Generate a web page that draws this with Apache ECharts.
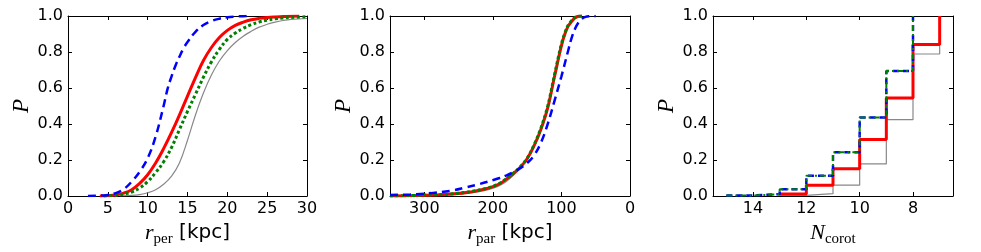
<!DOCTYPE html>
<html><head><meta charset="utf-8">
<script src="https://cdn.jsdelivr.net/npm/echarts@6/dist/echarts.min.js"></script>
<style>html,body{margin:0;padding:0;background:#fff}#c{width:981px;height:252px}</style>
</head><body><div id="c"></div>
<script>
// ---- Panel 1: r_per [kpc] ----
const perGray  = [[6.5,0],[8,0.003],[9,0.008],[10,0.018],[11,0.035],[12,0.065],[13,0.11],[14,0.185],[15,0.31],[16,0.45],[17,0.572],[18,0.672],[19,0.75],[20,0.808],[21,0.853],[22,0.888],[23,0.915],[24,0.938],[25,0.954],[26,0.966],[27,0.975],[28,0.981],[30,0.986]];
const perRed   = [[4,0],[5,0.002],[6,0.006],[7,0.016],[8,0.035],[9,0.07],[10,0.118],[11,0.183],[12,0.263],[13,0.353],[14,0.451],[15,0.555],[16,0.658],[17,0.753],[18,0.825],[19,0.88],[20,0.92],[21,0.948],[22,0.966],[23,0.979],[24,0.987],[25,0.992],[26,0.995],[27,0.997],[28,0.999],[29,1.0]];
const perGreen = [[4.5,0],[6,0.004],[7,0.01],[8,0.022],[9,0.045],[10,0.08],[11,0.13],[12,0.19],[13,0.27],[14,0.37],[15,0.47],[16,0.565],[17,0.66],[18,0.745],[19,0.815],[20,0.87],[21,0.905],[22,0.932],[23,0.952],[24,0.967],[25,0.977],[26,0.984],[27,0.989],[28,0.992],[30,0.996]];
const perBlue  = [[2.5,0],[4,0.002],[5,0.006],[6,0.016],[7,0.038],[8,0.08],[9,0.135],[10,0.21],[11,0.33],[12,0.5],[12.5,0.595],[13,0.665],[13.5,0.725],[14,0.775],[14.5,0.82],[15,0.855],[16,0.912],[17,0.95],[18,0.972],[19,0.985],[20,0.993],[21,0.997],[22,0.999],[23,1.0]];

// ---- Panel 2: r_par [kpc] ----
const parGray  = [[350,0],[300,0.003],[260,0.008],[230,0.018],[210,0.032],[200,0.043],[190,0.058],[180,0.082],[170,0.115],[160,0.155],[150,0.205],[140,0.278],[130,0.37],[120,0.49],[110,0.665],[100,0.835],[95,0.9],[90,0.945],[85,0.97],[80,0.99],[75,0.999],[70,1.0]];
const parRed   = [[350,0],[300,0.004],[260,0.011],[230,0.024],[210,0.04],[200,0.052],[190,0.068],[180,0.095],[170,0.125],[160,0.16],[150,0.207],[140,0.278],[130,0.37],[120,0.49],[110,0.665],[100,0.835],[95,0.9],[90,0.945],[85,0.97],[80,0.99],[75,0.999],[70,1.0]];
const parGreen = [[350,0],[300,0.005],[260,0.012],[230,0.026],[210,0.042],[200,0.054],[190,0.07],[180,0.097],[170,0.127],[160,0.163],[150,0.21],[140,0.283],[130,0.377],[120,0.5],[110,0.675],[100,0.845],[95,0.905],[90,0.95],[85,0.975],[80,0.993],[75,0.999],[70,1.0]];
const parBlue  = [[350,0.005],[320,0.009],[290,0.016],[260,0.03],[240,0.047],[220,0.066],[200,0.088],[190,0.1],[180,0.115],[170,0.133],[160,0.155],[150,0.183],[140,0.225],[130,0.295],[120,0.4],[110,0.53],[100,0.665],[90,0.81],[85,0.88],[80,0.93],[75,0.965],[70,0.985],[65,0.995],[60,0.999],[50,1.0]];

// ---- Panel 3: N_corot (cumulative steps) ----
const corGray  = [[13,0.004],[12,0.013],[11,0.06],[10,0.178],[9,0.424],[8,0.789],[7,1.0]];
const corRed   = [[13,0.011],[12,0.06],[11,0.151],[10,0.314],[9,0.544],[8,0.841],[7,1.0]];
const corBlue  = [[15,0.003],[14,0.01],[13,0.037],[12,0.112],[11,0.243],[10,0.436],[9,0.695],[8,1.0]];
const corGreen = [[15,0.003],[14,0.01],[13,0.037],[12,0.112],[11,0.243],[10,0.436],[9,0.695],[8,1.0]];

const nCorotTicks = [8,10,12,14];

const chart = echarts.init(document.getElementById('c'), null, {renderer:'canvas'});

const grids = [
  {left:68, top:16, width:239, height:180},
  {left:390, top:16, width:240, height:180},
  {left:713, top:16, width:240, height:180}
];
const black = '#000';
const tickStyle = {show:true, inside:true, length:4, lineStyle:{color:black, width:1}};
const lineAx = {show:true, onZero:false, lineStyle:{color:black, width:1}};
const labelStyle = {show:true, fontSize:16, fontFamily:'DejaVu Sans', color:black, margin:5};
const serif = 'Liberation Serif';
const richName = {
  i: {fontFamily:serif, fontStyle:'italic', fontSize:22, lineHeight:28, color:black},
  s: {fontFamily:serif, fontSize:15, lineHeight:11, verticalAlign:'bottom', color:black},
  k: {fontFamily:'DejaVu Sans', fontSize:20, lineHeight:28, color:black}
};
const xSpecs = [
  {min:0, max:30, interval:5, inverse:false, name:'{i|r}{s|per}{k| [kpc]}'},
  {min:0, max:350, interval:100, inverse:true, name:'{i|r}{s|par}{k| [kpc]}', hideMax:true},
  {min:6.5, max:15.5, inverse:true, name:'{i|N}{s|corot}', custom:nCorotTicks}
];
const xAxes = [], yAxes = [];
xSpecs.forEach((sp, g) => {
  const base = {gridIndex:g, type:'value', min:sp.min, max:sp.max, inverse:sp.inverse, splitLine:{show:false}, axisLine:lineAx};
  if (sp.interval) base.interval = sp.interval;
  const tick = Object.assign({}, tickStyle);
  if (sp.custom) tick.customValues = sp.custom;
  const lab = Object.assign({}, labelStyle, {showMaxLabel: sp.hideMax ? false : true, showMinLabel:true});
  if (sp.custom) lab.customValues = sp.custom;
  xAxes.push(Object.assign({}, base, {position:'bottom', axisTick:tick, axisLabel:lab,
    name:sp.name, nameLocation:'middle', nameGap:18,
    nameTextStyle:{fontSize:20, fontFamily:'DejaVu Sans', color:black, rich:richName}}));
  xAxes.push(Object.assign({}, base, {position:'top', axisTick:tick, axisLabel:{show:false}}));
  const ybase = {gridIndex:g, type:'value', min:0, max:1, interval:0.2, splitLine:{show:false}, axisLine:lineAx, axisTick:tickStyle};
  yAxes.push(Object.assign({}, ybase, {position:'left',
    axisLabel:Object.assign({}, labelStyle, {formatter:v => v.toFixed(1)}),
    name:'P', nameLocation:'middle', nameGap:26, nameRotate:90,
    nameTextStyle:{fontFamily:serif, fontStyle:'italic', fontSize:23, color:black}}));
  yAxes.push(Object.assign({}, ybase, {position:'right', axisLabel:{show:false}}));
});

function curve(g, data, color, width, type, opts) {
  return Object.assign({
    type:'line', xAxisIndex:2*g, yAxisIndex:2*g, data:data, showSymbol:false, symbol:'none',
    smooth:0.4,
    lineStyle:{color:color, width:width, type:type, cap:'butt'}, silent:true, z:2
  }, opts || {});
}
const series = [
  curve(0, perGray, '#888888', 1.2, 'solid'),
  curve(0, perRed, '#ff0000', 3, 'solid'),
  curve(0, perGreen, '#008000', 3, [3,2.5]),
  curve(0, perBlue, '#0000ff', 2.5, [8,5]),
  curve(1, parGray, '#888888', 1.2, 'solid'),
  curve(1, parRed, '#ff0000', 3, 'solid'),
  curve(1, parGreen, '#008000', 3, [3,2.5]),
  curve(1, parBlue, '#0000ff', 2.5, [8,5]),
  curve(2, corGray, '#888888', 1.2, 'solid', {smooth:false, step:'end'}),
  curve(2, corRed, '#ff0000', 3, 'solid', {smooth:false, step:'end'}),
  curve(2, corBlue, '#0000ff', 2.5, [6,4], {smooth:false, step:'end'}),
  curve(2, corGreen, '#008000', 2, [6,3,2,3], {smooth:false, step:'end'})
];

chart.setOption({
  animation:false,
  backgroundColor:'#ffffff',
  grid:grids,
  xAxis:xAxes,
  yAxis:yAxes,
  series:series
});
</script>
</body></html>
